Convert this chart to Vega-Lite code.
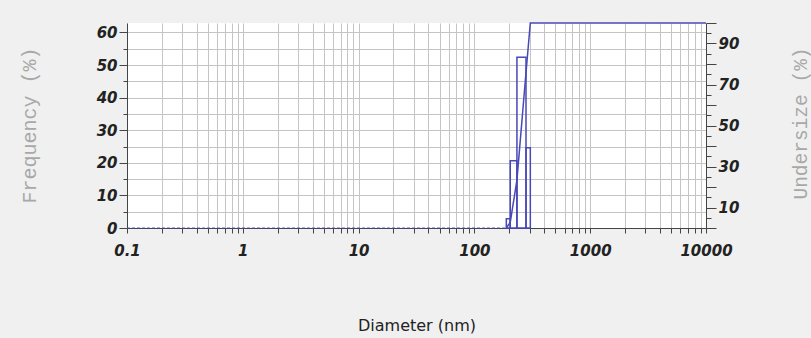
{
  "$schema": "https://vega.github.io/schema/vega-lite/v6.json",
  "width": 579,
  "height": 205,
  "autosize": {"type": "none"},
  "padding": {"left": 127, "top": 23, "right": 105, "bottom": 110},
  "background": "#f0f0f0",
  "config": {
    "view": {"fill": "white", "stroke": null},
    "axis": {
      "labelFont": "DejaVu Sans",
      "labelFontSize": 15,
      "labelFontWeight": "bold",
      "labelFontStyle": "italic",
      "labelColor": "#222222",
      "domainColor": "#444444",
      "tickColor": "#444444",
      "gridColor": "#c4c4c4",
      "gridOpacity": 1
    }
  },
  "datasets": {
    "hist": [
      {"lo": 188.6, "hi": 204, "freq": 2.8},
      {"lo": 204, "hi": 233, "freq": 20.6},
      {"lo": 233, "hi": 279, "freq": 52.4},
      {"lo": 279, "hi": 304, "freq": 24.6}
    ],
    "cum": [
      {"d": 0.1, "u": 0, "part": "zero"},
      {"d": 188.6, "u": 0, "part": "zero"},
      {"d": 188.6, "u": 0, "part": "rise"},
      {"d": 204, "u": 2.8, "part": "rise"},
      {"d": 233, "u": 23.4, "part": "rise"},
      {"d": 279, "u": 75.8, "part": "rise"},
      {"d": 304, "u": 100, "part": "rise"},
      {"d": 10000, "u": 100, "part": "rise"}
    ]
  },
  "layer": [
    {
      "data": {"name": "hist"},
      "mark": {"type": "rect", "filled": false, "stroke": "#4848b8", "strokeWidth": 1.5},
      "encoding": {
        "x": {
          "field": "lo",
          "type": "quantitative",
          "title": "Diameter (nm)",
          "scale": {"type": "log", "domain": [0.1, 10000], "nice": false},
          "axis": {
            "values": [0.1,0.2,0.3,0.4,0.5,0.6,0.7,0.8,0.9,1,2,3,4,5,6,7,8,9,10,20,30,40,50,60,70,80,90,100,200,300,400,500,600,700,800,900,1000,2000,3000,4000,5000,6000,7000,8000,9000,10000],
            "labelExpr": "indexof([0.1,1,10,100,1000,10000], datum.value) >= 0 ? format(datum.value, '') : ''",
            "grid": true,
            "tickSize": 5,
            "labelPadding": 10,
            "labelFlush": false,
            "labelOverlap": false,
            "titleFont": "DejaVu Sans",
            "titleFontSize": 16,
            "titleFontWeight": "normal",
            "titleColor": "#222222",
            "titleY": 97,
            "titleBaseline": "middle"
          }
        },
        "x2": {"field": "hi"},
        "y": {
          "field": "freq",
          "type": "quantitative",
          "scale": {"domain": [0, 62.9], "nice": false},
          "axis": {
            "values": [0,5,10,15,20,25,30,35,40,45,50,55,60],
            "labelExpr": "datum.value % 10 == 0 ? datum.label : ''",
            "labelOverlap": false,
            "tickSize": {"condition": {"test": "datum.value % 10 == 0", "value": 8}, "value": 4},
            "grid": true,
            "labelPadding": 2,
            "title": "Frequency (%)",
            "titleFont": "Liberation Mono",
            "titleFontSize": 20,
            "titleFontWeight": "normal",
            "titleColor": "#a8a8a8",
            "titleAngle": 270,
            "titleX": -98,
            "titleY": 102,
            "titleAlign": "center",
            "titleBaseline": "middle"
          }
        },
        "y2": {"datum": 0}
      }
    },
    {
      "data": {"name": "cum"},
      "mark": {"type": "line", "color": "#4848b8", "strokeWidth": 1.5},
      "encoding": {
        "x": {"field": "d", "type": "quantitative", "title": "Diameter (nm)"},
        "y": {
          "field": "u",
          "type": "quantitative",
          "scale": {"domain": [0, 100], "nice": false},
          "axis": {
            "orient": "right",
            "values": [0,5,10,15,20,25,30,35,40,45,50,55,60,65,70,75,80,85,90,95,100],
            "labelExpr": "datum.value % 20 == 10 ? datum.label : ''",
            "labelOverlap": false,
            "tickSize": {"condition": {"test": "datum.value % 10 == 0", "value": 10}, "value": 5},
            "grid": false,
            "labelPadding": 2,
            "title": "Undersize (%)",
            "titleFont": "Liberation Mono",
            "titleFontSize": 19.5,
            "titleFontWeight": "normal",
            "titleColor": "#a8a8a8",
            "titleAngle": 270,
            "titleX": 94,
            "titleY": 100,
            "titleAlign": "center",
            "titleBaseline": "middle"
          }
        },
        "detail": {"field": "part"},
        "strokeDash": {
          "field": "part",
          "type": "nominal",
          "scale": {"domain": ["zero", "rise"], "range": [[3, 2], [1, 0]]},
          "legend": null
        },
        "opacity": {
          "field": "part",
          "type": "nominal",
          "scale": {"domain": ["zero", "rise"], "range": [0.6, 1]},
          "legend": null
        }
      }
    }
  ],
  "resolve": {"scale": {"y": "independent"}}
}
